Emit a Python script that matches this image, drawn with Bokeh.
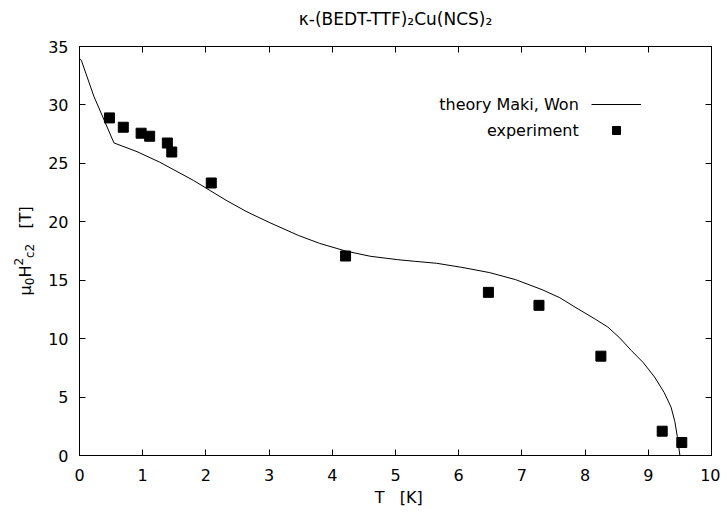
import math
from bokeh.plotting import figure
from bokeh.layouts import row, column
from bokeh.models import LinearAxis, FixedTicker, Label, Legend, LegendItem
from bokeh.core.properties import value
from bokeh.embed import file_html
from bokeh.resources import INLINE

# ---- data ----
title_text = "κ-(BEDT-TTF)₂Cu(NCS)₂"
x_label = "T\u00a0\u00a0\u00a0[K]"
theory_label = "theory Maki, Won"
exp_label = "experiment"

theory_T = [0.0, 0.03, 0.23, 0.39, 0.545, 0.91, 1.27, 1.80, 2.32, 2.65, 3.0, 3.46, 3.8,
            4.21, 4.6, 5.03, 5.3, 5.65, 6.05, 6.49, 6.9, 7.32, 7.6, 7.84, 8.16, 8.36,
            8.55, 8.73, 8.92, 9.10, 9.25, 9.36, 9.42, 9.46, 9.50]
theory_H = [33.97, 33.8, 30.7, 28.7, 26.75, 26.0, 25.1, 23.55, 21.84, 20.85, 19.95, 18.84, 18.15,
            17.5, 17.05, 16.76, 16.62, 16.45, 16.1, 15.65, 15.05, 14.19, 13.5, 12.7, 11.67, 10.99,
            10.05, 8.99, 7.95, 6.71, 5.4, 4.14, 2.9, 1.6, 0.0]

exp_T = [0.474, 0.693, 0.975, 1.11, 1.39, 1.46, 2.085, 4.21, 6.47, 7.27, 8.25, 9.22, 9.53]
exp_H = [28.89, 28.09, 27.58, 27.32, 26.74, 25.97, 23.32, 17.07, 13.96, 12.85, 8.50, 2.08, 1.11]

x_ticks = list(range(0, 11))
y_ticks = list(range(0, 36, 5))

FONT = "DejaVu Sans"
TITLE_H = 30
TOP, BOTTOM = 16, 33
LEFT_W = 40
MAIN_H = 458
STRIP_H = 507 - TITLE_H - MAIN_H

p = figure(width=720 - LEFT_W, height=MAIN_H, x_range=(0, 10), y_range=(0, 35),
           output_backend="svg", toolbar_location=None,
           min_border_left=79 - LEFT_W, min_border_right=9,
           min_border_top=TOP, min_border_bottom=BOTTOM)
p.xgrid.visible = False
p.ygrid.visible = False
p.outline_line_color = "black"
p.outline_line_width = 1

def style_axis(ax, ticks, show_labels):
    ax.ticker = FixedTicker(ticks=ticks)
    ax.axis_line_color = "black"
    ax.axis_line_width = 1
    ax.major_tick_line_color = "black"
    ax.major_tick_in = 6
    ax.major_tick_out = 0
    ax.minor_tick_line_color = None
    ax.major_label_text_font = FONT
    if show_labels:
        ax.major_label_text_font_size = "16px"
        ax.major_label_text_color = "black"
    else:
        ax.major_label_text_font_size = "1px"
        ax.major_label_text_color = None
        ax.major_label_standoff = 0

style_axis(p.xaxis[0], x_ticks, True)
style_axis(p.yaxis[0], y_ticks, True)
p.xaxis[0].major_label_standoff = 13
p.yaxis[0].major_label_standoff = 11

top_axis = LinearAxis()
right_axis = LinearAxis()
style_axis(top_axis, x_ticks, False)
style_axis(right_axis, y_ticks, False)
p.add_layout(top_axis, "above")
p.add_layout(right_axis, "right")

line_r = p.line(theory_T, theory_H, line_color="black", line_width=1)
sq_r = p.scatter(exp_T, exp_H, marker="square", size=10, fill_color="black", line_color="black")

legend = Legend(items=[LegendItem(label=value(" "), renderers=[line_r]),
                       LegendItem(label=value(" "), renderers=[sq_r])],
                location=(512, 315), padding=0, margin=0, spacing=6,
                glyph_width=50, glyph_height=20, label_height=20, label_width=1,
                label_text_font_size="1px", label_text_color=None,
                border_line_color=None, background_fill_alpha=0)
p.add_layout(legend)

# legend texts (right-aligned, left of the samples)
p.add_layout(Label(x=7.90, y=30.03, text=theory_label, text_align="right", text_baseline="middle",
                   text_font=FONT, text_font_size="16px", text_color="black"))
p.add_layout(Label(x=7.90, y=27.83, text=exp_label, text_align="right", text_baseline="middle",
                   text_font=FONT, text_font_size="16px", text_color="black"))

# ---- top strip holding the title ----
tstrip = figure(width=720, height=TITLE_H, x_range=p.x_range, y_range=(0, TITLE_H),
                output_backend="svg", toolbar_location=None,
                x_axis_location=None, y_axis_location=None,
                min_border_left=79, min_border_right=9,
                min_border_top=0, min_border_bottom=0)
tstrip.grid.visible = False
tstrip.outline_line_color = None
tstrip.add_layout(Label(x=5.0, y=TITLE_H - 18, text=title_text, text_align="center",
                        text_baseline="middle", text_font=FONT, text_font_size="17px",
                        text_color="black"))

# ---- left strip holding the y-axis label: mu_0 H^2_{c2}   [T] ----
ylab = figure(width=LEFT_W, height=MAIN_H, x_range=(0, LEFT_W), y_range=p.y_range,
              output_backend="svg", toolbar_location=None,
              x_axis_location=None, y_axis_location=None,
              min_border_left=0, min_border_right=0,
              min_border_top=TOP, min_border_bottom=BOTTOM)
ylab.grid.visible = False
ylab.outline_line_color = None

ang = math.pi / 2
y0 = 13.70    # data y where the label starts (its bottom end)
base_x = 25   # px of the main baseline inside the strip
pieces = [
    # text, advance along the text (px), baseline shift (px, +right = down in text), size
    ("μ", 0.0, 0, "16px"),
    ("0", 10.2, 4, "12px"),
    ("H", 17.8, 0, "16px"),
    ("2", 29.8, -7, "12px"),
    ("c2", 37.4, 4, "12px"),
    ("[T]", 66.9, 0, "16px"),
]
for txt, adv, shift, fs in pieces:
    ylab.add_layout(Label(x=base_x + shift, y=y0, y_offset=adv, text=txt, angle=ang,
                          text_align="left", text_baseline="alphabetic",
                          text_font=FONT, text_font_size=fs, text_color="black"))

# ---- bottom strip holding the x-axis label ----
xlab = figure(width=720, height=STRIP_H, x_range=p.x_range, y_range=(0, STRIP_H),
              output_backend="svg", toolbar_location=None,
              x_axis_location=None, y_axis_location=None,
              min_border_left=79, min_border_right=9,
              min_border_top=0, min_border_bottom=0)
xlab.grid.visible = False
xlab.outline_line_color = None
xlab.add_layout(Label(x=5.05, y=10, text=x_label, text_align="center",
                      text_baseline="middle", text_font=FONT, text_font_size="16px",
                      text_color="black"))

layout = column(tstrip, row(ylab, p), xlab)
open("out.html", "w").write(file_html(layout, INLINE))
